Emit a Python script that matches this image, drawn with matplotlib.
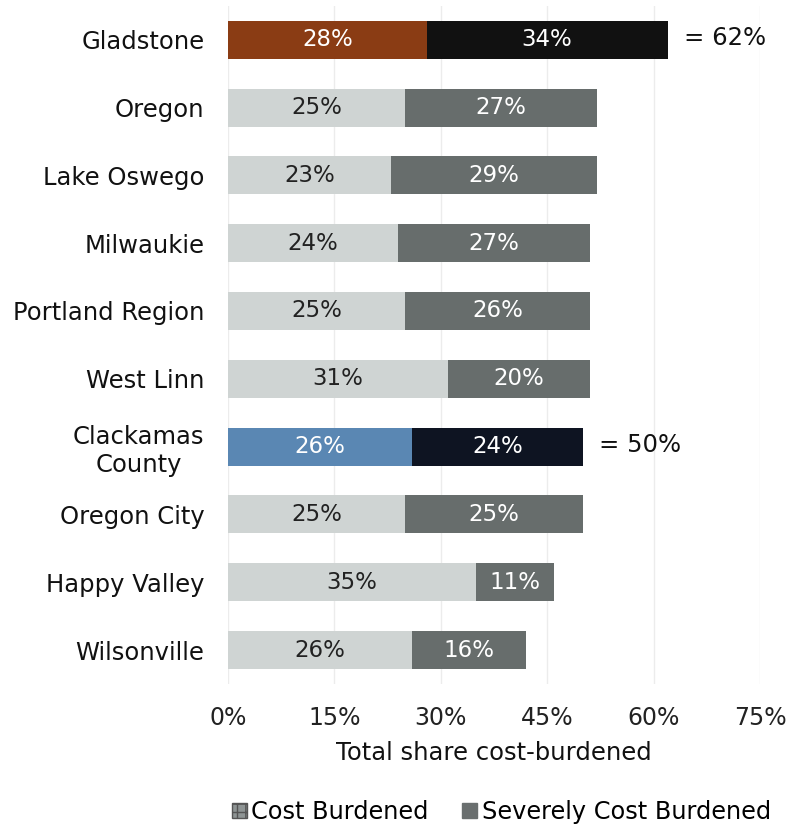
import matplotlib
matplotlib.use("Agg")
import matplotlib.pyplot as plt
from matplotlib.patches import Patch

# Data
places = ["Gladstone", "Oregon", "Lake Oswego", "Milwaukie", "Portland Region",
          "West Linn", "Clackamas\nCounty", "Oregon City", "Happy Valley", "Wilsonville"]
cost_burdened = [28, 25, 23, 24, 25, 31, 26, 25, 35, 26]
severely_burdened = [34, 27, 29, 27, 26, 20, 24, 25, 11, 16]
x_ticks = [0, 15, 30, 45, 60, 75]
highlight_totals = {"Gladstone": 62, "Clackamas\nCounty": 50}

# Colours
light_gray = "#cfd4d3"
dark_gray = "#676d6c"
special_colors = {
    "Gladstone": ("#8a3c14", "#111111"),
    "Clackamas\nCounty": ("#5a87b3", "#0e1422"),
}

plt.rcParams["font.family"] = ["DejaVu Sans"]
fig = plt.figure(figsize=(7.96, 8.31), dpi=100)
ax = fig.add_axes([0.2864, 0.177, 0.6683, 0.816])

y = list(range(len(places)))
for i, name in enumerate(places):
    c1, c2 = special_colors.get(name, (light_gray, dark_gray))
    ax.barh(i, cost_burdened[i], height=0.56, color=c1, zorder=2)
    ax.barh(i, severely_burdened[i], left=cost_burdened[i], height=0.56, color=c2, zorder=2)
    t1 = "white" if name in special_colors else "#222222"
    ax.text(cost_burdened[i] / 2, i, f"{cost_burdened[i]}%", ha="center", va="center",
            fontsize=16.5, color=t1, zorder=3)
    ax.text(cost_burdened[i] + severely_burdened[i] / 2, i, f"{severely_burdened[i]}%",
            ha="center", va="center", fontsize=16.5, color="white", zorder=3)
    if name in highlight_totals:
        total = highlight_totals[name]
        ax.text(total + 2.3, i - 0.02, f"= {total}%", ha="left", va="center",
                fontsize=17.5, color="#111111")

ax.set_ylim(len(places) - 0.5, -0.5)
ax.set_xlim(0, 75)
ax.set_yticks(y)
ax.set_yticklabels(places, fontsize=17.5, multialignment="center", color="#111111")
ax.set_xticks(x_ticks)
ax.set_xticklabels([f"{v}%" for v in x_ticks], fontsize=17, color="#222222")
ax.tick_params(axis="both", length=0)
ax.tick_params(axis="y", pad=17)
ax.tick_params(axis="x", pad=16)
ax.set_xlabel("Total share cost-burdened", fontsize=17.5, color="#111111", labelpad=8)
for s in ax.spines.values():
    s.set_visible(False)
ax.grid(axis="x", color="#ececec", linewidth=1, zorder=0)
ax.set_axisbelow(True)

handles = [
    Patch(facecolor="#8e9494", edgecolor="#555555", hatch="++", label="Cost Burdened"),
    Patch(facecolor="#6a6f6f", edgecolor="#6a6f6f", label="Severely Cost Burdened"),
]
fig.legend(handles=handles, loc="center", bbox_to_anchor=(0.63, 0.023), ncol=2,
           frameon=False, fontsize=17.3, handlelength=0.6, handleheight=0.6,
           handletextpad=0.2, columnspacing=1.4)

fig.savefig("out.png", dpi=100, facecolor="white")
